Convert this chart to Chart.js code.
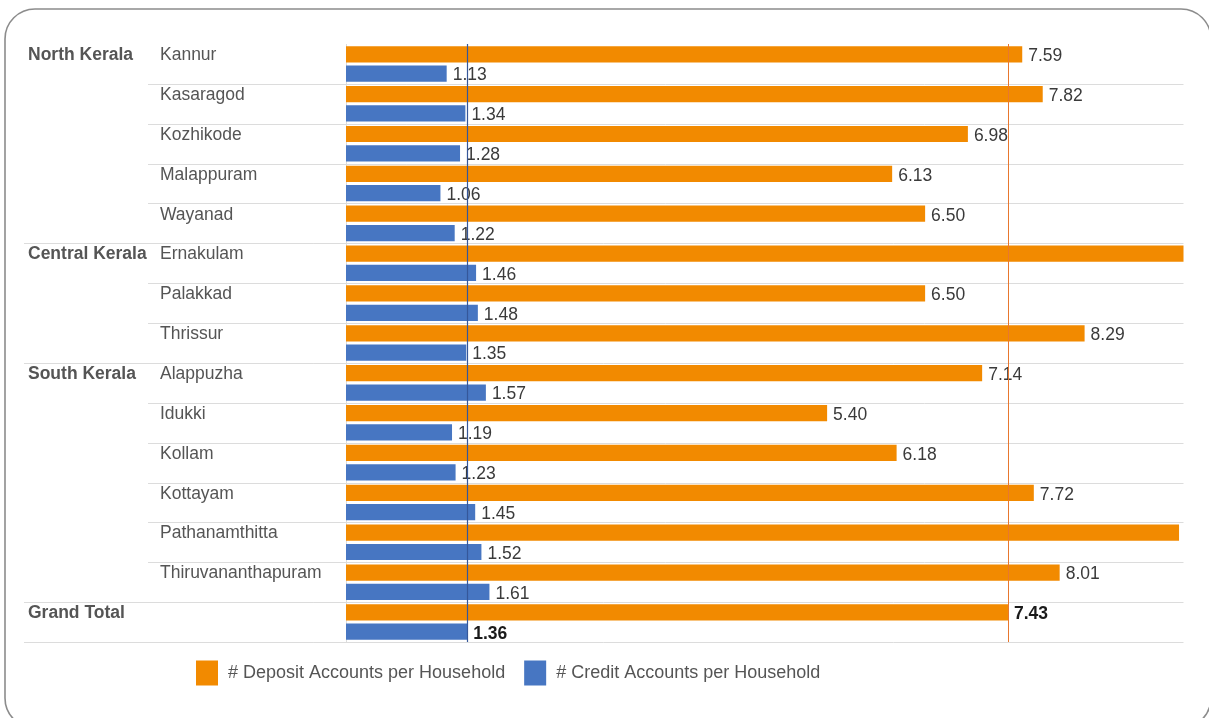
<!DOCTYPE html>
<html>
<head>
<meta charset="utf-8">
<script src="https://cdn.jsdelivr.net/npm/chart.js@4.4.1/dist/chart.umd.min.js"></script>
<style>
  html, body { margin: 0; padding: 0; background: #ffffff; }
  #wrap { width: 1209px; height: 718px; position: relative; }
</style>
</head>
<body>
<div id="wrap"><canvas id="c"></canvas></div>
<script>
// Districts, in display order, with the state-wide total as the last row
const categories = ['Kannur', 'Kasaragod', 'Kozhikode', 'Malappuram', 'Wayanad',
  'Ernakulam', 'Palakkad', 'Thrissur',
  'Alappuzha', 'Idukki', 'Kollam', 'Kottayam', 'Pathanamthitta', 'Thiruvananthapuram',
  'Grand Total'];
// Region name shown on the first row of each region
const regions = ['North Kerala', '', '', '', '',
  'Central Kerala', '', '',
  'South Kerala', '', '', '', '', '',
  'Grand Total'];
// District text shown in the second label column
const districtTicks = ['Kannur', 'Kasaragod', 'Kozhikode', 'Malappuram', 'Wayanad',
  'Ernakulam', 'Palakkad', 'Thrissur',
  'Alappuzha', 'Idukki', 'Kollam', 'Kottayam', 'Pathanamthitta', 'Thiruvananthapuram',
  ''];
const deposit = [7.59, 7.82, 6.98, 6.13, 6.50, 9.62, 6.50, 8.29, 7.14, 5.40, 6.18, 7.72, 9.35, 8.01, 7.43];
const credit  = [1.13, 1.34, 1.28, 1.06, 1.22, 1.46, 1.48, 1.35, 1.57, 1.19, 1.23, 1.45, 1.52, 1.61, 1.36];
const seriesNames = ['# Deposit Accounts per Household', '# Credit Accounts per Household'];

const ORANGE = '#F28A00';
const BLUE = '#4776C2';
const FONT = '"Liberation Sans", Arial, sans-serif';
const totalIndex = categories.length - 1;
const depositAvg = deposit[totalIndex];
const creditAvg = credit[totalIndex];

// Rounded panel border around the whole figure
const framePlugin = {
  id: 'frame',
  beforeDraw(chart) {
    const ctx = chart.ctx;
    const x0 = 5, y0 = 9, x1 = 1211, y1 = 728, r = 30;
    ctx.save();
    ctx.fillStyle = '#ffffff';
    ctx.fillRect(0, 0, chart.width, chart.height);
    ctx.beginPath();
    ctx.moveTo(x0 + r, y0);
    ctx.lineTo(x1 - r, y0);
    ctx.arcTo(x1, y0, x1, y0 + r, r);
    ctx.lineTo(x1, y1 - r);
    ctx.arcTo(x1, y1, x1 - r, y1, r);
    ctx.lineTo(x0 + r, y1);
    ctx.arcTo(x0, y1, x0, y1 - r, r);
    ctx.lineTo(x0, y0 + r);
    ctx.arcTo(x0, y0, x0 + r, y0, r);
    ctx.closePath();
    ctx.strokeStyle = '#8c8c8c';
    ctx.lineWidth = 1.6;
    ctx.stroke();
    ctx.restore();
  }
};

// Row separators, the value-axis baseline and the two-level row labels
const rowsPlugin = {
  id: 'rows',
  beforeDatasetsDraw(chart) {
    const ctx = chart.ctx;
    const y = chart.scales.y;
    const area = chart.chartArea;
    const half = (y.getPixelForValue(1) - y.getPixelForValue(0)) / 2;
    ctx.save();
    ctx.strokeStyle = '#dcdcdc';
    ctx.lineWidth = 1;
    for (let i = 0; i < categories.length; i++) {
      const yy = Math.round(y.getPixelForValue(i) + half) + 0.5;
      const groupEdge = (i === categories.length - 1) || regions[i + 1] !== '';
      ctx.beginPath();
      ctx.moveTo(groupEdge ? 24 : 148, yy);
      ctx.lineTo(area.right, yy);
      ctx.stroke();
    }
    ctx.beginPath();
    ctx.moveTo(area.left + 0.5, area.top);
    ctx.lineTo(area.left + 0.5, area.bottom);
    ctx.stroke();

    const meta = chart.getDatasetMeta(0);
    ctx.textBaseline = 'middle';
    ctx.textAlign = 'left';
    ctx.fillStyle = '#555555';
    for (let i = 0; i < categories.length; i++) {
      const ty = meta.data[i].y + 1;
      if (regions[i]) {
        ctx.font = 'bold 17.5px ' + FONT;
        ctx.fillText(regions[i], 28, ty);
      }
      if (districtTicks[i]) {
        ctx.font = '17.5px ' + FONT;
        ctx.fillText(districtTicks[i], 160, ty);
      }
    }
    ctx.restore();
  }
};

// Value labels at the bar ends, then the two state-average reference lines
const valuesPlugin = {
  id: 'values',
  afterDatasetsDraw(chart) {
    const ctx = chart.ctx;
    const area = chart.chartArea;
    ctx.save();
    ctx.textBaseline = 'middle';
    ctx.textAlign = 'left';
    chart.data.datasets.forEach((ds, di) => {
      const meta = chart.getDatasetMeta(di);
      meta.data.forEach((bar, i) => {
        const isTotal = i === totalIndex;
        ctx.font = (isTotal ? 'bold ' : '') + '17.5px ' + FONT;
        ctx.fillStyle = isTotal ? '#1a1a1a' : '#3a3a3a';
        const txt = ds.data[i].toFixed(2);
        const tx = bar.x + 6;
        if (tx + ctx.measureText(txt).width > area.right) return;
        ctx.fillText(txt, tx, bar.y + 2);
      });
    });

    const x = chart.scales.x;
    const drawRef = (v, color, w) => {
      const px = Math.round(x.getPixelForValue(v)) + 0.5;
      ctx.beginPath();
      ctx.moveTo(px, area.top);
      ctx.lineTo(px, area.bottom);
      ctx.strokeStyle = color;
      ctx.lineWidth = w;
      ctx.stroke();
    };
    drawRef(depositAvg, '#E8772E', 1);
    drawRef(creditAvg, '#35579A', 1.2);
    ctx.restore();
  }
};

// Legend row under the plot
const legendPlugin = {
  id: 'legendRow',
  afterDraw(chart) {
    const ctx = chart.ctx;
    const colors = [ORANGE, BLUE];
    let x = 196;
    const cy = 673;
    ctx.save();
    ctx.font = '18px ' + FONT;
    ctx.textBaseline = 'middle';
    ctx.textAlign = 'left';
    chart.data.datasets.forEach((ds, i) => {
      ctx.fillStyle = colors[i];
      ctx.fillRect(x, cy - 12.5, 22, 25);
      ctx.fillStyle = '#555555';
      ctx.fillText(ds.label, x + 32, cy);
      x += 32 + ctx.measureText(ds.label).width + 19;
    });
    ctx.restore();
  }
};

new Chart(document.getElementById('c'), {
  type: 'bar',
  data: {
    labels: categories,
    datasets: [
      { label: seriesNames[0], data: deposit, backgroundColor: ORANGE, borderWidth: 0 },
      { label: seriesNames[1], data: credit, backgroundColor: BLUE, borderWidth: 0 }
    ]
  },
  options: {
    indexAxis: 'y',
    responsive: true,
    maintainAspectRatio: false,
    animation: false,
    layout: { padding: { left: 346, right: 25.5, top: 44, bottom: 76 } },
    datasets: { bar: { categoryPercentage: 0.97, barPercentage: 0.84 } },
    scales: {
      x: { display: false, min: 0, max: 9.4 },
      y: { display: false }
    },
    plugins: {
      legend: { display: false },
      tooltip: { enabled: false }
    }
  },
  plugins: [framePlugin, rowsPlugin, valuesPlugin, legendPlugin]
});
</script>
</body>
</html>
